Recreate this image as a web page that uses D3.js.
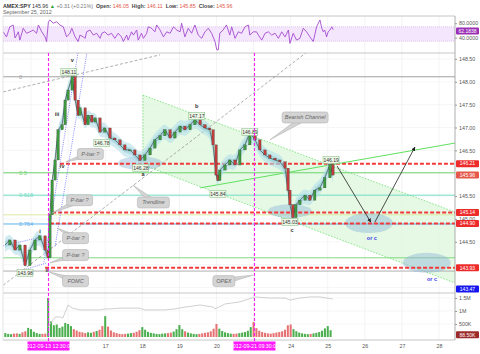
<!DOCTYPE html>
<html>
<head>
<meta charset="utf-8">
<script src="https://cdn.jsdelivr.net/npm/d3@7"></script>
<style>
  body { margin: 0; background: #fff; }
  svg { display: block; font-family: "Liberation Sans", Arial, sans-serif; }
</style>
</head>
<body>
<svg id="drawing_region"></svg>
<script>
// time axis is in trading days: 0 = Sep 13 open, 1 = Sep 14 open ... (weekends removed)
const dayTicks = [2, 3, 4, 5, 7, 8, 9, 10, 11];
const dayTickLabels = ["17", "18", "19", "20", "24", "25", "26", "27", "28"];
const gridDays = [-1, 0, 1, 2, 3, 4, 5, 6, 7, 8, 9, 10, 11];

const closes = [
  [-0.70,144.43],[-0.57,144.54],[-0.43,144.32],[-0.30,144.43],[-0.16,143.98],[-0.03,144.32],
  [0.11,144.54],[0.24,144.63],[0.38,144.32],[0.46,144.15],[0.51,145.09],[0.57,145.85],
  [0.65,146.29],[0.73,146.95],[0.84,147.06],[0.92,147.60],[1.00,147.82],[1.11,148.11],
  [1.19,147.60],[1.27,147.27],[1.32,147.43],[1.46,147.06],[1.54,147.27],[1.64,147.12],
  [1.73,147.21],[1.86,146.90],[1.99,146.99],[2.13,146.77],[2.26,146.73],[2.40,146.62],
  [2.53,146.51],[2.67,146.51],[2.80,146.40],[2.94,146.28],[3.07,146.40],[3.21,146.55],
  [3.34,146.73],[3.48,146.82],[3.61,146.95],[3.75,146.77],[3.88,146.90],[4.02,147.03],
  [4.15,146.95],[4.29,147.06],[4.42,147.17],[4.56,147.06],[4.69,146.99],[4.82,146.95],
  [4.91,146.62],[4.99,145.96],[5.04,145.84],[5.09,146.07],[5.23,146.18],[5.36,146.29],
  [5.50,146.18],[5.63,146.51],[5.77,146.62],[5.90,146.89],[6.04,146.73],[6.17,146.51],
  [6.31,146.40],[6.44,146.33],[6.58,146.29],[6.71,146.25],[6.85,146.11],[6.93,145.63],
  [6.98,145.31],[7.06,145.03],[7.14,145.31],[7.25,145.41],[7.39,145.52],[7.52,145.41],
  [7.65,145.63],[7.79,145.68],[7.92,145.90],[8.06,146.19],[8.14,145.96]
];

// [time, RSI]
const rsi = [
  [-0.75,56],[-0.66,42],[-0.57,70],[-0.48,75],[-0.43,39],[-0.34,56],[-0.30,33],[-0.21,66],
  [-0.12,52],[-0.03,56],[0.06,61],[0.15,52],[0.20,75],[0.29,56],[0.38,42],[0.42,29],
  [0.47,84],[0.51,89],[0.60,80],[0.69,84],[0.78,75],[0.87,70],[0.96,42],[1.05,52],
  [1.10,66],[1.19,42],[1.27,29],[1.32,47],[1.41,42],[1.46,38],[1.50,56],[1.59,61],
  [1.68,47],[1.77,52],[1.86,38],[1.91,52],[1.99,56],[2.08,47],[2.17,52],[2.26,38],
  [2.35,52],[2.44,42],[2.49,29],[2.58,47],[2.62,33],[2.71,56],[2.76,47],[2.85,61],
  [2.89,33],[2.98,52],[3.03,38],[3.12,52],[3.16,70],[3.25,66],[3.34,56],[3.39,75],
  [3.48,61],[3.57,42],[3.66,56],[3.75,52],[3.84,70],[3.93,61],[4.02,56],[4.06,80],
  [4.15,42],[4.24,66],[4.33,52],[4.42,75],[4.51,47],[4.60,38],[4.69,56],[4.78,66],
  [4.87,52],[4.96,29],[5.01,6],[5.05,6],[5.09,52],[5.18,61],[5.27,75],[5.36,47],
  [5.41,70],[5.50,38],[5.59,56],[5.68,52],[5.77,70],[5.86,75],[5.90,47],[5.99,56],
  [6.08,56],[6.13,47],[6.22,33],[6.31,52],[6.40,56],[6.49,47],[6.58,52],[6.67,38],
  [6.76,56],[6.85,42],[6.94,61],[6.98,24],[7.07,52],[7.16,33],[7.25,38],[7.34,66],
  [7.43,56],[7.52,42],[7.61,29],[7.70,70],[7.79,89],[7.84,66],[7.88,56],[7.92,61],
  [7.97,42],[8.01,56],[8.06,61],[8.11,70],[8.15,62]
];

// 30-minute volume (K), first bar = Sep 12 11:30, 13 bars per day
const volStart = -9 / 13;
const volumes = [
  150,120,110,130,140,120,180,220,350,                  // Sep 12
  300,200,150,120,120,130,1500,600,450,480,350,400,540, // Sep 13 (FOMC)
  500,420,300,250,200,180,150,180,160,200,230,280,420,  // Sep 14
  800,400,250,180,150,120,110,120,130,150,160,200,260,  // Sep 17
  380,280,200,160,140,120,110,130,140,150,170,210,300,  // Sep 18
  460,300,220,170,140,120,110,120,140,160,180,220,320,  // Sep 19
  500,320,230,180,150,130,120,130,150,170,190,240,380,  // Sep 20
  580,340,240,190,160,140,130,150,170,190,220,280,450,  // Sep 21
  480,300,220,170,140,120,110,120,140,160,190,240,330,  // Sep 24
  420,260                                               // Sep 25
];

// grey line in the volume pane, [time, K]
const volLine = [
  [0.46,385],[0.65,770],[0.78,770],[0.86,730],[1.00,1230],[1.11,1115],[1.32,1040],[1.59,1040],
  [1.86,1040],[1.99,1080],[2.13,1080],[2.40,1110],[2.67,1110],[2.94,1110],[3.07,1040],[3.34,1040],
  [3.61,1040],[3.88,1080],[4.15,1150],[4.56,1230],[4.91,1150],[4.96,1080],[5.23,1270],[5.63,1350],
  [6.04,1540],[6.44,1500],[6.85,1500],[6.98,1420],[7.25,1500],[7.52,1540],[7.79,1540],[8.14,1460]
];

const priceTicks = [148.5, 148, 147.5, 147, 146.5, 145.5, 145, 144.5];
const gridPrices = [148.5, 148, 147.5, 147, 146.5, 146, 145.5, 145, 144.5, 144, 143.5];
const rsiTicks = [80, 40];
const volTicks = [1500, 1000, 500];
const volTickLabels = ["1.5M", "1M", "500K"];

const fibPrices = [148.11, 146.01, 145.52, 145.09, 144.89, 144.15, 143.86];
const fibNames = ["0", "0.5", "0.618", "", "0.764", "", ""];
const fibColors = ["#a0a0a0", "#6fd36f", "#6fdcc4", "#dbe9a0", "#5fb0ea", "#82d882", "#b0b0b0"];

const alertPrices = [146.21, 145.14, 144.90, 143.93];
const alertFrom = [0.78, 0.57, 0.51, 0.38];

const badgePrices = [146.21, 145.96, 145.14, 144.90, 143.93, 143.47];
const badgeColors = ["#ee2b2b", "#e5594a", "#ee2b2b", "#ee2b2b", "#ee2b2b", "#1616f0"];

const eventTimes = [0.46, 6.0];
const eventLabels = ["2012-09-13 12:30:00", "2012-09-21 09:30:00"];

const pivotLabels = [
  [1.02,148.21,"148.11"],[1.91,146.66,"146.78"],[2.96,146.12,"146.28"],[4.47,147.25,"147.17"],
  [5.90,146.90,"146.89"],[5.04,145.55,"145.84"],[6.98,144.93,"145.03"],[8.09,146.29,"146.19"],
  [-0.16,143.82,"143.98"]
];
const waveLabels = [
  [1.11,148.43,"v"],[0.70,147.25,"iii"],[0.84,146.11,"iv"],[0.24,144.69,"i"],[0.43,143.84,"ii"],
  [3.02,145.94,"a"],[4.47,147.43,"b"],[7.04,144.71,"c"]
];

const config = {
  width: 480, height: 354,
  left: 3, right: 455,
  rsiTop: 16, rsiBottom: 53,
  mainTop: 53, mainBottom: 293,
  volTop: 293, volBottom: 340
};

const svg = d3.select('#drawing_region')
              .attr('width', config.width)
              .attr('height', config.height);

const xscale = d3.scaleLinear().domain([0, 11]).range([31, 439]);
const yscale = d3.scaleLinear().domain([143.38, 148.63]).range([config.mainBottom, config.mainTop]);
const rscale = d3.scaleLinear().domain([0, 100]).range([52, 16]);
const vscale = d3.scaleLinear().domain([0, 1500]).range([337, 298]);

const defs = svg.append('defs');
const clip = (id, y0, y1) => defs.append('clipPath').attr('id', id)
    .append('rect').attr('x', config.left).attr('y', y0)
    .attr('width', config.right - config.left).attr('height', y1 - y0);
clip('clip-main', config.mainTop, config.mainBottom);
clip('clip-rsi', config.rsiTop, config.rsiBottom);
clip('clip-vol', config.volTop, config.volBottom);

// ---------- header ----------
const head = svg.append('text').attr('x', 3).attr('y', 7.5).attr('font-size', '5.3px');
const headParts = [
  ["AMEX:SPY ", "#333", "bold"], ["145.96 ", "#333", "normal"], ["▲ ", "#2ea02e", "normal"],
  ["+0.31 (+0.21%)  ", "#777", "normal"], ["Open: ", "#444", "bold"], ["146.05  ", "#e0584a", "normal"],
  ["High: ", "#444", "bold"], ["146.11  ", "#e0584a", "normal"], ["Low: ", "#444", "bold"],
  ["145.85  ", "#e0584a", "normal"], ["Close: ", "#444", "bold"], ["145.96", "#e0584a", "normal"]
];
headParts.forEach(p => {
  head.append('tspan').attr('fill', p[1]).attr('font-weight', p[2])
      .attr('xml:space', 'preserve').style('white-space', 'pre').text(p[0]);
});
svg.append('text').attr('x', 3).attr('y', 14).attr('font-size', '5.4px').attr('fill', '#666')
   .text("September 25, 2012");

// ---------- grid & frames ----------
const grid = svg.append('g');
grid.selectAll('.vg').data(gridDays).enter().append('line')
    .attr('x1', d => xscale(d)).attr('x2', d => xscale(d))
    .attr('y1', config.rsiTop).attr('y2', config.volBottom)
    .attr('stroke', '#ececec').attr('stroke-width', 0.6);
grid.selectAll('.hg').data(gridPrices).enter().append('line')
    .attr('x1', config.left).attr('x2', config.right)
    .attr('y1', d => yscale(d)).attr('y2', d => yscale(d))
    .attr('stroke', '#f0f0f0').attr('stroke-width', 0.6);
grid.selectAll('.vgl').data(volTicks).enter().append('line')
    .attr('x1', config.left).attr('x2', config.right)
    .attr('y1', d => vscale(d)).attr('y2', d => vscale(d))
    .attr('stroke', '#f0f0f0').attr('stroke-width', 0.6);

// ---------- RSI pane ----------
const rsiG = svg.append('g').attr('clip-path', 'url(#clip-rsi)');
rsiG.append('rect')
    .attr('x', config.left).attr('width', config.right - config.left)
    .attr('y', rscale(70)).attr('height', rscale(30) - rscale(70))
    .attr('fill', '#f4e6fc');
[70, 30].forEach(v => {
  rsiG.append('line').attr('x1', config.left).attr('x2', config.right)
      .attr('y1', rscale(v)).attr('y2', rscale(v))
      .attr('stroke', '#cfb0e3').attr('stroke-width', 0.6).attr('stroke-dasharray', '1,1');
});
rsiG.append('path').datum(rsi)
    .attr('d', d3.line().x(d => xscale(d[0])).y(d => rscale(d[1])))
    .attr('fill', 'none').attr('stroke', '#a54bd0').attr('stroke-width', 0.9);

// ---------- main pane ----------
const main = svg.append('g').attr('clip-path', 'url(#clip-main)');

// bearish channel
const chT = [3.02, 11.43];
const chUp = [147.71, 145.15];
const chLo = [146.18, 143.60];
main.append('path')
    .attr('d', d3.line()([[xscale(chT[0]), yscale(chUp[0])], [xscale(chT[1]), yscale(chUp[1])],
                          [xscale(chT[1]), yscale(chLo[1])], [xscale(chT[0]), yscale(chLo[0])]]) + 'Z')
    .attr('fill', '#dcf7dc').attr('fill-opacity', 0.75).attr('stroke', 'none');
[chUp, chLo].forEach(a => {
  main.append('line')
      .attr('x1', xscale(chT[0])).attr('y1', yscale(a[0]))
      .attr('x2', xscale(chT[1])).attr('y2', yscale(a[1]))
      .attr('stroke', '#6ee06e').attr('stroke-width', 0.8).attr('stroke-dasharray', '1.5,1.5');
});
main.append('line')
    .attr('x1', xscale(chT[0])).attr('x2', xscale(chT[0]))
    .attr('y1', yscale(chUp[0])).attr('y2', yscale(chLo[0]))
    .attr('stroke', '#6ee06e').attr('stroke-width', 0.8).attr('stroke-dasharray', '1.5,1.5');

// fib levels
main.selectAll('.fib').data(fibPrices).enter().append('line')
    .attr('x1', config.left).attr('x2', config.right)
    .attr('y1', d => yscale(d)).attr('y2', d => yscale(d))
    .attr('stroke', (d, i) => fibColors[i]).attr('stroke-width', 1);
main.selectAll('.fibt').data(fibPrices).enter().append('text')
    .attr('x', 19).attr('y', d => yscale(d) + 2)
    .attr('font-size', '5.6px').attr('fill', (d, i) => fibColors[i])
    .text((d, i) => fibNames[i]);

// ellipses
const ellipses = [[2.94, 146.22, 22, 7], [6.98, 145.17, 22, 7], [9.11, 144.91, 24, 10], [10.67, 144.04, 24, 10]];
main.selectAll('.ell').data(ellipses).enter().append('ellipse')
    .attr('cx', d => xscale(d[0])).attr('cy', d => yscale(d[1]))
    .attr('rx', d => d[2]).attr('ry', d => d[3])
    .attr('fill', '#8db6d8').attr('fill-opacity', 0.45);

// red alert lines
main.selectAll('.alert').data(alertPrices).enter().append('line')
    .attr('x1', (d, i) => xscale(alertFrom[i])).attr('x2', config.right)
    .attr('y1', d => yscale(d)).attr('y2', d => yscale(d))
    .attr('stroke', '#f23a3a').attr('stroke-width', 2).attr('stroke-dasharray', '4,2');

// trendlines
const dashLines = [
  [[-0.75, 147.78], [3.48, 148.59], '#999', '3,2'],
  [[-0.75, 143.55], [7.44, 148.65], '#999', '3,2'],
  [[0.35, 144.05], [1.27, 148.65], '#6b6bff', '1,1.2'],
  [[0.65, 144.40], [1.51, 148.65], '#6b6bff', '1,1.2'],
  [[-0.75, 144.41], [0.30, 144.61], '#6b6bff', '1,1.2'],
  [[-0.30, 143.86], [0.43, 144.04], '#6b6bff', '1,1.2']
];
dashLines.forEach(l => {
  main.append('line')
      .attr('x1', xscale(l[0][0])).attr('y1', yscale(l[0][1]))
      .attr('x2', xscale(l[1][0])).attr('y2', yscale(l[1][1]))
      .attr('stroke', l[2]).attr('stroke-width', 0.8).attr('stroke-dasharray', l[3]);
});
main.append('line')
    .attr('x1', xscale(4.56)).attr('y1', yscale(145.68))
    .attr('x2', xscale(11.43)).attr('y2', yscale(146.66))
    .attr('stroke', '#5ee05e').attr('stroke-width', 1);

// price cloud
main.append('path').datum(closes)
    .attr('d', d3.area().curve(d3.curveBasis)
                 .x(d => xscale(d[0])).y0(d => yscale(d[1] - 0.16)).y1(d => yscale(d[1] + 0.16)))
    .attr('fill', '#b3dde8').attr('fill-opacity', 0.6);
main.append('path').datum(closes)
    .attr('d', d3.area().curve(d3.curveBasis)
                 .x(d => xscale(d[0])).y0(d => yscale(d[1] - 0.07)).y1(d => yscale(d[1] + 0.07)))
    .attr('fill', '#86c4d4').attr('fill-opacity', 0.45);

// candles
main.append('path').datum(closes)
    .attr('d', d3.line().x(d => xscale(d[0])).y(d => yscale(d[1])))
    .attr('fill', 'none').attr('stroke', '#40504a').attr('stroke-width', 0.7);
const candles = closes.slice(1).map((d, i) => ({ t: d[0], o: closes[i][1], c: d[1] }));
main.selectAll('.candle').data(candles).enter().append('rect')
    .attr('x', d => xscale(d.t) - 1.2).attr('width', 2.4)
    .attr('y', d => yscale(Math.max(d.o, d.c)))
    .attr('height', d => Math.max(1, Math.abs(yscale(d.o) - yscale(d.c))))
    .attr('fill', d => d.c >= d.o ? '#3d9b3d' : '#c43c3c')
    .attr('stroke', '#2b3a30').attr('stroke-width', 0.3);

// arrows
defs.append('marker').attr('id', 'arrow').attr('viewBox', '0 0 10 10')
    .attr('refX', 9).attr('refY', 5).attr('markerWidth', 5).attr('markerHeight', 5)
    .attr('orient', 'auto')
    .append('path').attr('d', 'M0,0 L10,5 L0,10 Z').attr('fill', '#222');
[[[8.25, 146.16], [9.16, 144.93]], [[9.27, 144.93], [10.35, 146.57]]].forEach(a => {
  main.append('line')
      .attr('x1', xscale(a[0][0])).attr('y1', yscale(a[0][1]))
      .attr('x2', xscale(a[1][0])).attr('y2', yscale(a[1][1]))
      .attr('stroke', '#222').attr('stroke-width', 0.8).attr('marker-end', 'url(#arrow)');
});
main.selectAll('.orc').data([[9.19, 144.54], [10.81, 143.64]]).enter().append('text')
    .attr('x', d => xscale(d[0])).attr('y', d => yscale(d[1]))
    .attr('text-anchor', 'middle').attr('font-size', '5.5px').attr('font-weight', 'bold')
    .attr('fill', '#3a3ae6').text('or c');

// pivot labels
const piv = main.selectAll('.piv').data(pivotLabels).enter().append('g')
    .attr('transform', d => `translate(${xscale(d[0])},${yscale(d[1])})`);
piv.append('rect').attr('x', -8).attr('y', -3.5).attr('width', 16).attr('height', 7)
   .attr('fill', '#eef8e8').attr('stroke', '#7cb87c').attr('stroke-width', 0.5);
piv.append('text').attr('text-anchor', 'middle').attr('y', 2)
   .attr('font-size', '5px').attr('fill', '#333').text(d => d[2]);

main.selectAll('.wave').data(waveLabels).enter().append('text')
    .attr('x', d => xscale(d[0])).attr('y', d => yscale(d[1]))
    .attr('text-anchor', 'middle').attr('font-size', '5.5px').attr('font-weight', 'bold')
    .attr('fill', '#333').text(d => d[2]);

// callouts
const callouts = [
  ["P-bar ?", 1.60, 146.42, 0.94, 146.25, 26],
  ["P-bar ?", 1.31, 145.41, 0.57, 145.13, 26],
  ["P-bar ?", 1.20, 144.58, 0.70, 144.80, 26],
  ["P-bar ?", 1.20, 144.21, 0.51, 144.04, 26],
  ["FOMC", 1.20, 143.64, 0.49, 143.84, 26],
  ["OPEX", 5.20, 143.64, 5.98, 143.77, 22],
  ["Trendline", 3.30, 145.36, 2.75, 145.74, 32],
  ["Bearish Channel", 7.39, 147.22, 6.44, 146.73, 46]
];
callouts.forEach(c => {
  const cx = xscale(c[1]), cy = yscale(c[2]), tx = xscale(c[3]), ty = yscale(c[4]);
  const ang = Math.atan2(ty - cy, tx - cx);
  const px = Math.sin(ang) * 3, py = -Math.cos(ang) * 3;
  const g = main.append('g');
  g.append('path').attr('d', `M${cx + px},${cy + py}L${tx},${ty}L${cx - px},${cy - py}Z`)
   .attr('fill', '#d4d4d4').attr('stroke', '#b3b3b3').attr('stroke-width', 0.6);
  g.append('rect').attr('x', cx - c[5] / 2).attr('y', cy - 5.5).attr('width', c[5]).attr('height', 11)
   .attr('rx', 2.5).attr('fill', '#d4d4d4').attr('stroke', '#b3b3b3').attr('stroke-width', 0.6);
  g.append('text').attr('x', cx).attr('y', cy + 2).attr('text-anchor', 'middle')
   .attr('font-size', '5.5px').attr('font-style', 'italic').attr('fill', '#666').text(c[0]);
});

// ---------- volume pane ----------
const volG = svg.append('g').attr('clip-path', 'url(#clip-vol)');
const priceAt = t => {
  const i = d3.bisector(d => d[0]).right(closes, t) - 1;
  return closes[Math.max(0, Math.min(closes.length - 1, i))][1];
};
const step = 1 / 13;
volG.selectAll('.vol').data(volumes).enter().append('rect')
    .attr('x', (d, i) => xscale(volStart + i * step) - 1)
    .attr('width', xscale(step) - xscale(0) - 0.8)
    .attr('y', d => vscale(d)).attr('height', d => vscale(0) - vscale(d))
    .attr('fill', (d, i) => {
      const t = volStart + i * step;
      return priceAt(t + step) >= priceAt(t - step) ? '#4caf50' : '#e57373';
    });
volG.append('path').datum(volLine)
    .attr('d', d3.line().x(d => xscale(d[0])).y(d => vscale(d[1])))
    .attr('fill', 'none').attr('stroke', '#c4c4c4').attr('stroke-width', 0.8);

// pane borders
const frame = svg.append('g').attr('stroke', '#b8b8b8').attr('stroke-width', 0.8);
[config.rsiTop, config.mainTop, config.mainBottom, config.volBottom].forEach(y => {
  frame.append('line').attr('x1', config.left).attr('x2', config.right).attr('y1', y).attr('y2', y);
});
frame.append('line').attr('x1', config.right).attr('x2', config.right)
     .attr('y1', config.rsiTop).attr('y2', config.volBottom).attr('stroke', '#999');
frame.append('line').attr('x1', config.left).attr('x2', config.left)
     .attr('y1', config.rsiTop).attr('y2', config.volBottom).attr('stroke', '#ddd');

// event lines
svg.selectAll('.evt').data(eventTimes).enter().append('line')
   .attr('x1', d => Math.round(xscale(d)) + 0.5).attr('x2', d => Math.round(xscale(d)) + 0.5)
   .attr('y1', config.mainTop).attr('y2', config.volBottom + 2)
   .attr('stroke', '#ff1aff').attr('stroke-width', 1.1).attr('stroke-dasharray', '3,2');

// ---------- axes ----------
const styleAxis = g => {
  g.select('.domain').remove();
  g.selectAll('text').attr('font-size', '5.3px').attr('fill', '#555')
   .attr('font-family', '"Liberation Sans", Arial, sans-serif');
};
svg.append('g').attr('transform', `translate(${config.right},0)`)
   .call(d3.axisRight(yscale).tickValues(priceTicks).tickSize(2).tickPadding(2).tickFormat(d3.format('.2f')))
   .call(styleAxis).selectAll('line').attr('stroke', '#999');
svg.append('g').attr('transform', `translate(${config.right},0)`)
   .call(d3.axisRight(rscale).tickValues(rsiTicks).tickSize(2).tickPadding(2).tickFormat(d3.format('.4f')))
   .call(styleAxis).selectAll('line').attr('stroke', '#999');
svg.append('g').attr('transform', `translate(${config.right},0)`)
   .call(d3.axisRight(vscale).tickValues(volTicks).tickSize(2).tickPadding(2)
          .tickFormat((d, i) => volTickLabels[i]))
   .call(styleAxis).selectAll('line').attr('stroke', '#999');
svg.append('g').attr('transform', `translate(0,${config.volBottom})`)
   .call(d3.axisBottom(xscale).tickValues(dayTicks).tickSize(0).tickPadding(4)
          .tickFormat((d, i) => dayTickLabels[i]))
   .call(styleAxis);

// badges
const badge = (y, label, color) => {
  const g = svg.append('g').attr('transform', `translate(${config.right + 1},${y})`);
  g.append('rect').attr('x', 0).attr('y', -3.5).attr('width', 23).attr('height', 7).attr('rx', 1)
   .attr('fill', color);
  g.append('text').attr('x', 11.5).attr('y', 1.8).attr('text-anchor', 'middle')
   .attr('font-size', '5px').attr('fill', '#fff').text(label);
};
badgePrices.forEach((p, i) => badge(yscale(p), d3.format('.2f')(p), badgeColors[i]));
badge(rscale(62.18) + 1.5, "62.1838", "#9a2fb5");
badge(vscale(88.5), "88.50K", "#9c2a2a");

// event labels
const evl = svg.selectAll('.evl').data(eventTimes).enter().append('g')
   .attr('transform', d => `translate(${Math.round(xscale(d)) + 0.5},${config.volBottom + 6})`);
evl.append('rect').attr('x', -21).attr('y', -4.5).attr('width', 42).attr('height', 9)
   .attr('fill', '#ff1aff');
evl.append('text').attr('text-anchor', 'middle').attr('y', 2)
   .attr('font-size', '5.3px').attr('fill', '#fff').text((d, i) => eventLabels[i]);
</script>
</body>
</html>
